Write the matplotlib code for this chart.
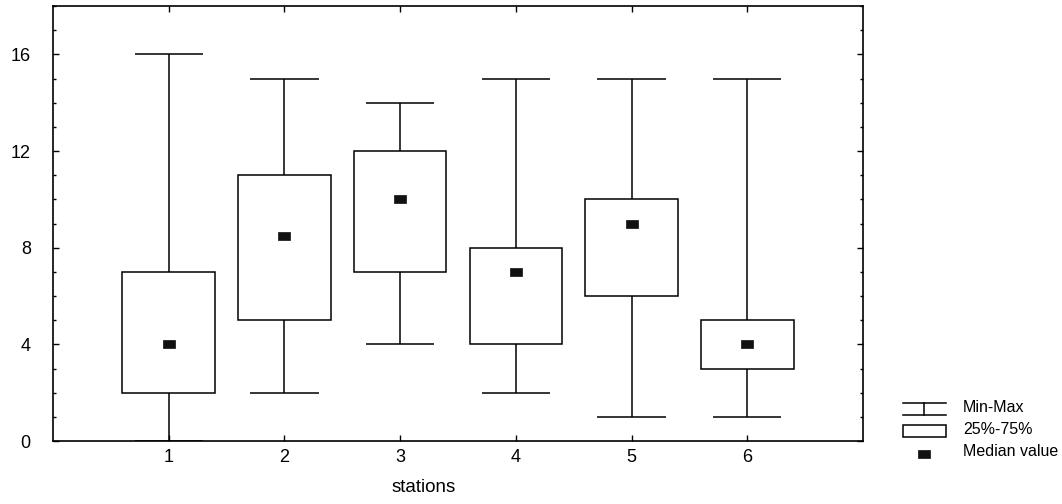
import matplotlib
matplotlib.use("Agg")
import matplotlib.pyplot as plt
from matplotlib.patches import Rectangle
from matplotlib.lines import Line2D
from matplotlib.ticker import MultipleLocator

plt.rcParams['font.family'] = ['Liberation Sans', 'DejaVu Sans']

stations = [1, 2, 3, 4, 5, 6]
mins = [0, 2, 4, 2, 1, 1]
q1 = [2, 5, 7, 4, 6, 3]
medians = [4, 8.5, 10, 7, 9, 4]
q3 = [7, 11, 12, 8, 10, 5]
maxs = [16, 15, 14, 15, 15, 15]
yticks = [0, 4, 8, 12, 16]
legend_labels = ["Min-Max", "25%-75%", "Median value"]

W, H = 1062, 504
fig = plt.figure(figsize=(W / 100, H / 100), dpi=100)
ax = fig.add_axes([53 / W, 1 - 441 / H, 810 / W, 435 / H])

box_w = 0.8
cap_w = 0.59
lw = 1.1
med_marker = [(-1.5, -1), (1.5, -1), (1.5, 1), (-1.5, 1), (-1.5, -1)]

for x, lo, a, m, b, hi in zip(stations, mins, q1, medians, q3, maxs):
    ax.vlines(x, lo, a, color='black', lw=lw)
    ax.vlines(x, b, hi, color='black', lw=lw)
    ax.hlines([lo, hi], x - cap_w / 2, x + cap_w / 2, color='black', lw=lw)
    ax.add_patch(Rectangle((x - box_w / 2, a), box_w, b - a, fill=False,
                           edgecolor='black', lw=lw))
    ax.plot([x], [m], marker=med_marker, markersize=8.5, color='#111111',
            markeredgewidth=0.5, linestyle='none')

ax.set_xlim(0, 7)
ax.set_ylim(0, 18)
ax.set_xticks(stations)
ax.set_yticks(yticks)
ax.yaxis.set_minor_locator(MultipleLocator(1))
ax.tick_params(axis='both', which='both', direction='in', top=True, right=True,
               labelsize=13, colors='black')
ax.tick_params(axis='both', which='major', length=4, width=1)
ax.tick_params(axis='y', which='minor', length=2.5, width=1)
ax.tick_params(axis='x', which='major', pad=6)
ax.tick_params(axis='y', which='major', pad=16)
for s in ax.spines.values():
    s.set_linewidth(1.2)
ax.set_xlabel("stations", fontsize=13.5, labelpad=9)
ax.xaxis.label.set_x(0.458)

# legend drawn manually in figure pixel coordinates
lax = fig.add_axes([0, 0, 1, 1])
lax.set_xlim(0, W)
lax.set_ylim(H, 0)
lax.axis('off')
x0, x1 = 903, 946
xm = (x0 + x1) / 2
lax.add_line(Line2D([x0, x1], [403, 403], color='black', lw=lw))
lax.add_line(Line2D([x0, x1], [414.5, 414.5], color='black', lw=lw))
lax.add_line(Line2D([xm - 1, xm - 1], [403, 414.5], color='black', lw=lw))
lax.add_patch(Rectangle((x0, 425), x1 - x0, 11.5, fill=False, edgecolor='black', lw=lw))
lax.plot([923.5], [454], marker=med_marker, markersize=8.5, color='#111111',
         markeredgewidth=0.5, linestyle='none')
for ty, t in zip([407, 430, 452], legend_labels):
    lax.text(963, ty, t, fontsize=11.5, va='center', ha='left')

fig.savefig("out.png", dpi=100)
